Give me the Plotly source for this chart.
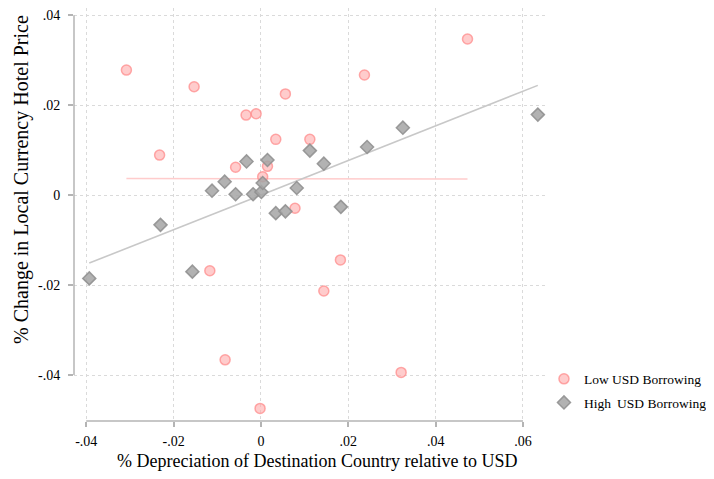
import plotly.graph_objects as go

# Low USD borrowing (pink circles)
low_x = [-0.0308, -0.0153, -0.0232, -0.0034, -0.0011, 0.0056, 0.0034, -0.0058, 0.0015, 0.0004,
         0.0078, 0.0112, 0.0237, 0.0473, -0.0117, -0.0082, -0.0002, 0.0182, 0.0144, 0.0321]
low_y = [0.0278, 0.0241, 0.0089, 0.0178, 0.0181, 0.0225, 0.0124, 0.0062, 0.0064, 0.0041,
         -0.0029, 0.0124, 0.0267, 0.0347, -0.0168, -0.0366, -0.0474, -0.0144, -0.0213, -0.0394]

# High USD borrowing (grey diamonds)
high_x = [-0.0033, 0.0015, -0.0083, -0.0112, -0.0058, -0.0018, 0.0001, 0.0004, 0.0082, 0.0034,
          0.0056, 0.0112, 0.0144, 0.0243, 0.0325, 0.0634, 0.0183, -0.0230, -0.0393, -0.0157]
high_y = [0.0075, 0.0078, 0.0030, 0.0010, 0.0002, 0.0002, 0.0007, 0.0027, 0.0016, -0.0040,
          -0.0036, 0.0099, 0.0070, 0.0107, 0.0150, 0.0179, -0.0026, -0.0066, -0.0185, -0.0170]

# fitted lines
fit_low_x = [-0.0308, 0.0473]
fit_low_y = [0.0037, 0.0036]
fit_high_x = [-0.0393, 0.0634]
fit_high_y = [-0.0151, 0.0244]

tick_vals_x = [-0.04, -0.02, 0, 0.02, 0.04, 0.06]
tick_text_x = ["-.04", "-.02", "0", ".02", ".04", ".06"]
tick_vals_y = [-0.04, -0.02, 0, 0.02, 0.04]
tick_text_y = ["-.04", "-.02", "0", ".02", ".04"]

serif = "Liberation Serif, Times New Roman, serif"
axis_grey = "#b4b4b4"
grid_grey = "#dadada"

fig = go.Figure()

# fit lines
fig.add_trace(go.Scatter(x=fit_low_x, y=fit_low_y, mode="lines",
                         line=dict(color="#ffcccc", width=1.6), showlegend=False, hoverinfo="skip"))
fig.add_trace(go.Scatter(x=fit_high_x, y=fit_high_y, mode="lines",
                         line=dict(color="#c8c8c8", width=1.6), showlegend=False, hoverinfo="skip"))

# scatter points
fig.add_trace(go.Scatter(x=low_x, y=low_y, mode="markers", name="Low USD Borrowing",
                         legendgroup="low",
                         marker=dict(symbol="circle", size=10, color="rgba(255,170,170,0.6)",
                                     line=dict(color="rgba(255,140,140,0.75)", width=1.5))))
fig.add_trace(go.Scatter(x=high_x, y=high_y, mode="markers", name="High\u2009 USD Borrowing",
                         legendgroup="high",
                         marker=dict(symbol="diamond", size=10, color="rgba(165,165,165,0.85)",
                                     line=dict(color="rgba(145,145,145,0.9)", width=1.5))))

# Stata-style axis lines spanning only the tick range
fig.add_shape(type="line", xref="x", yref="paper", x0=-0.04, x1=0.06, y0=0, y1=0,
              line=dict(color=axis_grey, width=1.5))
fig.add_shape(type="line", xref="paper", yref="y", x0=0, x1=0, y0=-0.04, y1=0.04,
              line=dict(color=axis_grey, width=1.5))

fig.update_layout(
    width=714, height=479,
    margin=dict(l=66, r=175, t=0, b=66),
    paper_bgcolor="white", plot_bgcolor="white",
    font=dict(family=serif, size=14, color="black"),
    showlegend=True,
    legend=dict(x=0.9936, y=0.139, xanchor="left", yanchor="top",
                font=dict(family=serif, size=13.5, color="black"),
                tracegroupgap=3, bgcolor="rgba(0,0,0,0)"),
    xaxis=dict(range=[-0.0428, 0.0655], tickvals=tick_vals_x, ticktext=tick_text_x,
               showgrid=True, gridcolor=grid_grey, griddash="dot", gridwidth=1,
               zeroline=False, showline=False, ticks="outside", ticklen=5,
               tickcolor=axis_grey, tickwidth=1.5, tickfont=dict(size=14),
               ticklabelstandoff=2),
    yaxis=dict(range=[-0.0502, 0.0416], tickvals=tick_vals_y, ticktext=tick_text_y,
               showgrid=True, gridcolor=grid_grey, griddash="dot", gridwidth=1,
               zeroline=False, showline=False, ticks="outside", ticklen=5,
               tickcolor=axis_grey, tickwidth=1.5, tickfont=dict(size=14),
               ticklabelstandoff=5),
    annotations=[
        dict(text="% Depreciation of Destination Country relative to USD", xref="paper", yref="paper",
             x=(309 - 66) / 473, y=(413 - 453) / 413, xanchor="center", yanchor="middle",
             showarrow=False, font=dict(family=serif, size=18)),
        dict(text="% Change in Local Currency Hotel Price", xref="paper", yref="paper",
             x=(13 - 66) / 473, y=(413 - 172) / 413, xanchor="center", yanchor="middle",
             textangle=-90, showarrow=False, font=dict(family=serif, size=20)),
    ],
)

fig.write_html("out.html")
